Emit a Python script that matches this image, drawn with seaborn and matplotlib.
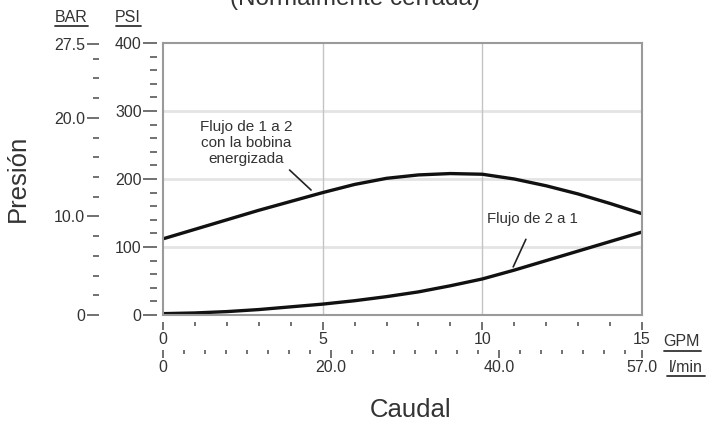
import numpy as np
import pandas as pd
import seaborn as sns
import matplotlib.pyplot as plt
from matplotlib.lines import Line2D

sns.set_theme(style='white')
plt.rcParams['font.family'] = ['Liberation Sans', 'DejaVu Sans']

# caudal en GPM y presión en PSI
gpm = [0, 1, 2, 3, 4, 5, 6, 7, 8, 9, 10, 11, 12, 13, 14, 15]
psi_1a2 = [112, 126, 140, 154, 167, 180, 192, 201, 206, 208, 207, 200, 190, 178, 164, 149]
psi_2a1 = [2, 3, 5, 8, 12, 16, 21, 27, 34, 43, 53, 66, 80, 94, 108, 122]

psi_ticks = [0, 100, 200, 300, 400]
bar_ticks = [0, 10.0, 20.0, 27.5]
bar_labels = ['0', '10.0', '20.0', '27.5']
gpm_ticks = [0, 5, 10, 15]
lpm_ticks = [0, 20.0, 40.0, 57.0]
lpm_labels = ['0', '20.0', '40.0', '57.0']

df = pd.DataFrame({'gpm': gpm + gpm,
                   'psi': psi_1a2 + psi_2a1,
                   'serie': ['1a2'] * len(gpm) + ['2a1'] * len(gpm)})

W, H = 709, 425
fig = plt.figure(figsize=(W / 100, H / 100), dpi=100)
ax = fig.add_axes([163 / W, 1 - 315 / H, 479 / W, 272 / H])

txt = '#333333'
tick_c = '#4a4a4a'

# rejilla
for v in [100, 200, 300]:
    ax.axhline(v, color='#e4e4e4', lw=2, zorder=0)
for v in [5, 10]:
    ax.axvline(v, color='#c4c4c4', lw=1, zorder=0)

sns.lineplot(data=df, x='gpm', y='psi', hue='serie', palette=['#111111', '#111111'],
             lw=2.4, legend=False, sort=False, ax=ax, solid_joinstyle='round')
ax.set_xlim(0, 15)
ax.set_ylim(0, 400)
ax.set_xticks([])
ax.set_yticks([])
ax.set_xlabel('')
ax.set_ylabel('')
for s in ax.spines.values():
    s.set_color('#9a9a9a')
    s.set_linewidth(1.5)

def style_sec(sec, major_len, minor_len):
    for s in sec.spines.values():
        s.set_visible(False)
    sec.tick_params(which='major', length=major_len, width=1.1, color=tick_c,
                    labelsize=11.5, labelcolor=txt, pad=1)
    sec.tick_params(which='minor', length=minor_len, width=1.1, color=tick_c)

# eje PSI
sec_psi = ax.secondary_yaxis(-6 / 479)
sec_psi.set_yticks(psi_ticks)
sec_psi.set_yticks([v for v in range(0, 401, 20) if v % 100], minor=True)
style_sec(sec_psi, 10, 5)

# eje BAR
sec_bar = ax.secondary_yaxis(-64 / 479, functions=(lambda p: p / 14.5, lambda b: b * 14.5))
sec_bar.set_yticks(bar_ticks, bar_labels)
sec_bar.set_yticks([2, 4, 6, 8, 12, 14, 16, 18, 22, 24, 26], minor=True)
style_sec(sec_bar, 9, 4.5)

# eje GPM
sec_gpm = ax.secondary_xaxis(-7 / 272)
sec_gpm.set_xticks(gpm_ticks)
sec_gpm.set_xticks([v for v in range(1, 15) if v % 5], minor=True)
style_sec(sec_gpm, 6, 3)

# eje l/min
sec_lpm = ax.secondary_xaxis(-35 / 272, functions=(lambda g: g * 3.8, lambda l: l / 3.8))
sec_lpm.set_xticks(lpm_ticks, lpm_labels)
sec_lpm.set_xticks([v * 2.5 for v in range(1, 23) if v % 8], minor=True)
style_sec(sec_lpm, 6, 3)

# anotaciones
ax.text(2.6, 253, 'Flujo de 1 a 2\ncon la bobina\nenergizada', ha='center', va='center',
        fontsize=11, color=txt, linespacing=1.15)
ax.annotate('', xy=(4.7, 181), xytext=(3.9, 216),
            arrowprops=dict(arrowstyle='-', lw=1.2, color='#222222'))
ax.text(11.56, 141, 'Flujo de 2 a 1', ha='center', va='center', fontsize=10.8, color=txt)
ax.annotate('', xy=(10.93, 67), xytext=(11.4, 115),
            arrowprops=dict(arrowstyle='-', lw=1.2, color='#222222'))

# encabezados de unidades subrayados
def header(x, y, s, w):
    fig.text(x / W, 1 - y / H, s, ha='center', va='center', fontsize=11.5, color=txt)
    fig.add_artist(Line2D([(x - w / 2) / W, (x + w / 2) / W], [1 - (y + 9) / H] * 2,
                          color=txt, lw=1.3))

header(71, 17, 'BAR', 33)
header(128, 17, 'PSI', 25)
header(682, 342, 'GPM', 37)
header(686, 367, 'l/min', 38)

fig.text(18 / W, 1 - 178 / H, 'Presión', rotation=90, ha='center', va='center',
         fontsize=18.5, color=txt)
fig.text(411 / W, 1 - 410 / H, 'Caudal', ha='center', va='center', fontsize=18.5, color=txt)
# el título aparece cortado por el borde superior, como en el original
fig.text(354.5 / W, 1 - 5 / H, '(Normalmente cerrada)', ha='center', va='baseline',
         fontsize=17.5, color=txt)

fig.savefig('out.png', dpi=100)
